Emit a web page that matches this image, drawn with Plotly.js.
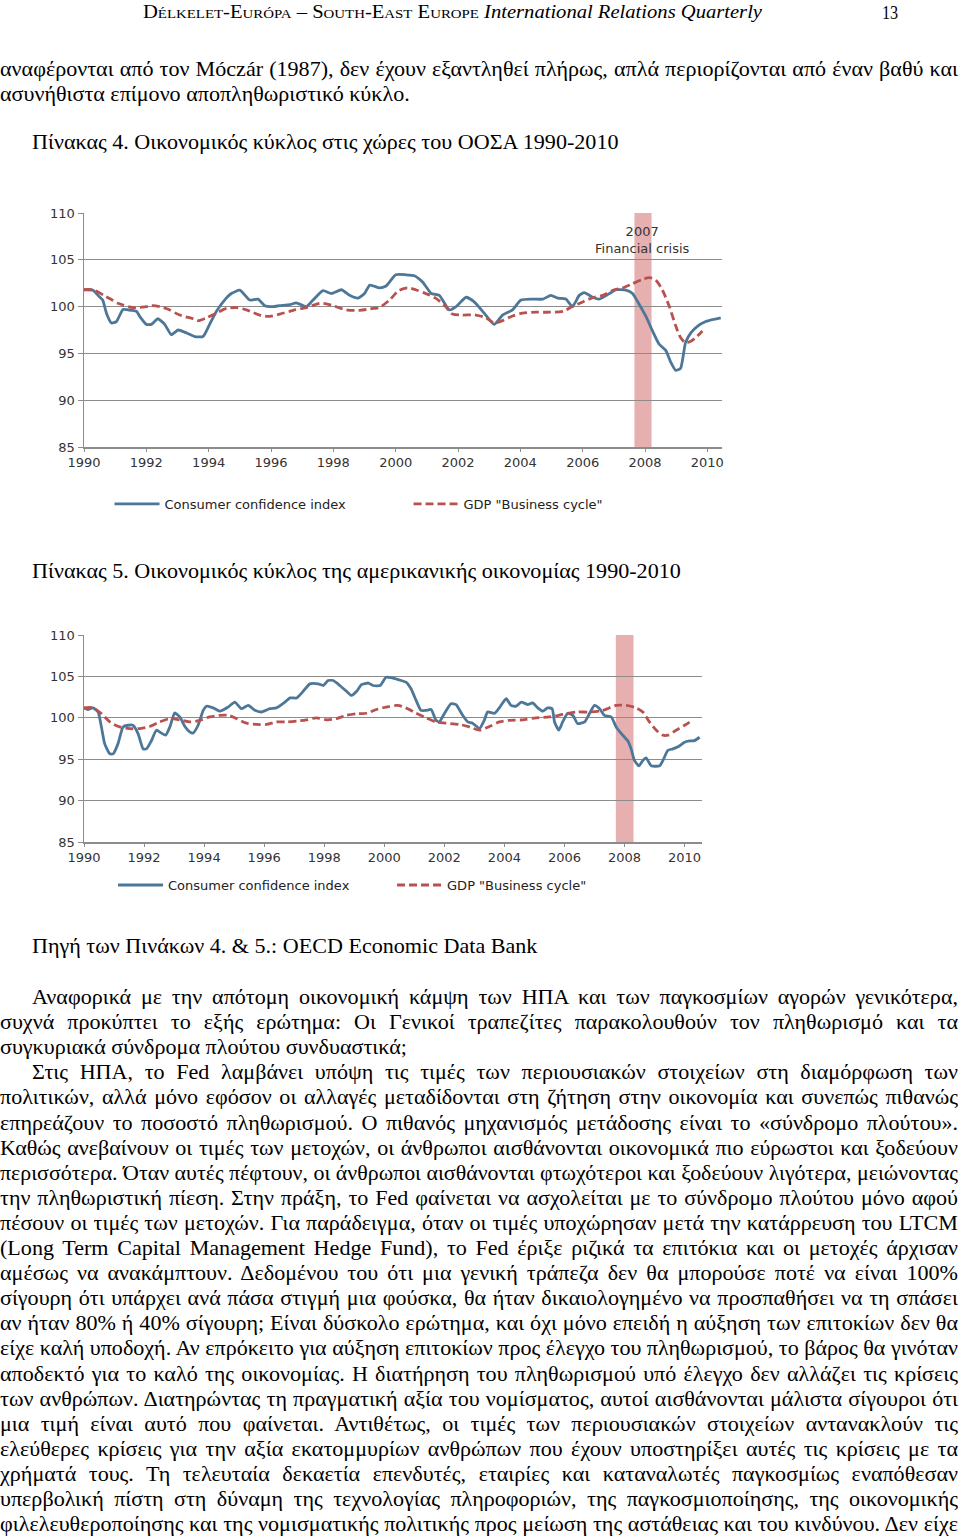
<!DOCTYPE html>
<html><head><meta charset="utf-8">
<script src="https://cdn.plot.ly/plotly-3.0.1.min.js"></script>
<style>
html,body{margin:0;padding:0;background:#fff;}
body{width:960px;height:1539px;position:relative;overflow:hidden;font-family:"Liberation Serif","Times New Roman",serif;color:#000;}
.ln{position:absolute;left:0;white-space:nowrap;font-size:21px;line-height:25px;transform-origin:0 0;}
.hd{position:absolute;white-space:nowrap;font-size:18px;line-height:22px;transform-origin:0 0;}
#c1{position:absolute;left:0;top:195px;width:760px;height:350px;}
#c2{position:absolute;left:0;top:615px;width:760px;height:330px;}
</style></head><body>
<div id="c1"></div>
<div id="c2"></div>
<script>
// ---------- DATA: Chart 1 (OECD countries) ----------
const cc1_years = [1990.00,1990.29,1990.45,1990.60,1990.72,1990.88,1991.04,1991.25,1991.41,1991.68,1991.79,1992.00,1992.16,1992.37,1992.59,1992.80,1993.02,1993.28,1993.55,1993.82,1994.03,1994.25,1994.51,1994.73,1995.00,1995.32,1995.58,1995.80,1996.06,1996.28,1996.60,1996.81,1997.13,1997.35,1997.67,1997.94,1998.26,1998.52,1998.79,1999.00,1999.17,1999.48,1999.69,2000.00,2000.33,2000.60,2000.87,2001.14,2001.40,2001.72,2001.94,2002.26,2002.52,2002.84,2003.16,2003.43,2003.75,2004.02,2004.39,2004.72,2004.98,2005.20,2005.46,2005.67,2005.89,2006.05,2006.32,2006.53,2006.86,2007.07,2007.39,2007.60,2007.82,2008.03,2008.24,2008.45,2008.67,2008.82,2008.98,2009.14,2009.30,2009.47,2009.68,2009.95,2010.16,2010.43];
const cc1_values = [101.8,101.75,101.2,100.7,99.3,98.25,98.4,99.7,99.65,99.5,98.95,98.1,98.1,98.7,98.1,97.0,97.5,97.2,96.8,96.8,98.1,99.5,100.7,101.4,101.75,100.7,100.8,100.1,100.0,100.1,100.2,100.4,100.0,100.7,101.7,101.4,101.8,101.2,100.9,101.4,102.3,102.0,102.2,103.4,103.4,103.3,102.6,101.4,101.2,99.65,100.0,101.0,100.5,99.3,98.1,99.1,99.65,100.7,100.8,100.8,101.2,100.9,100.8,100.0,101.2,101.5,101.0,100.8,101.4,101.8,101.75,101.4,100.2,98.95,97.4,96.0,95.3,94.1,93.2,93.4,96.15,97.2,97.9,98.4,98.6,98.8];
const gdp1_years = [1990.00,1990.29,1990.72,1991.14,1991.57,1992.00,1992.21,1992.64,1993.07,1993.50,1993.66,1993.93,1994.25,1994.57,1994.89,1995.21,1995.64,1995.96,1996.28,1996.71,1997.13,1997.56,1997.78,1997.99,1998.42,1998.84,1999.27,1999.48,1999.80,2000.10,2000.37,2000.64,2000.96,2001.28,2001.60,2001.82,2002.14,2002.57,2002.90,2003.16,2003.43,2003.75,2004.07,2004.50,2004.93,2005.36,2005.67,2006.00,2006.32,2006.65,2006.97,2007.29,2007.60,2007.92,2008.14,2008.35,2008.56,2008.78,2008.99,2009.14,2009.30,2009.47,2009.68,2009.84];
const gdp1_values = [101.8,101.8,101.05,100.3,99.9,100.0,100.1,99.8,99.1,98.7,98.5,98.8,99.3,99.8,99.9,99.65,99.1,98.95,99.2,99.6,99.9,100.35,100.3,100.1,99.65,99.6,99.8,99.9,100.7,101.7,102.0,101.8,101.4,100.9,100.0,99.2,99.1,99.1,98.8,98.25,98.5,99.0,99.3,99.4,99.4,99.5,100.0,100.5,100.95,101.2,101.75,102.0,102.45,102.9,103.1,102.8,101.75,100.0,97.9,96.7,96.15,96.3,96.85,97.4];
const crisis1 = [2007.66, 2008.21];

// ---------- DATA: Chart 2 (US economy) ----------
const cc2_years = [1990.00,1990.13,1990.30,1990.47,1990.58,1990.69,1990.86,1990.97,1991.13,1991.30,1991.47,1991.63,1991.80,1991.97,1992.08,1992.24,1992.41,1992.58,1992.72,1992.86,1993.02,1993.19,1993.36,1993.52,1993.63,1993.80,1993.97,1994.08,1994.30,1994.52,1994.80,1995.02,1995.24,1995.47,1995.69,1995.91,1996.19,1996.41,1996.69,1996.86,1997.08,1997.30,1997.52,1997.80,1997.97,1998.13,1998.30,1998.52,1998.74,1998.91,1999.08,1999.24,1999.47,1999.63,1999.86,2000.06,2000.28,2000.56,2000.72,2000.89,2001.06,2001.22,2001.39,2001.56,2001.72,2001.83,2002.00,2002.22,2002.39,2002.61,2002.78,2002.94,2003.17,2003.33,2003.44,2003.67,2003.83,2004.06,2004.22,2004.39,2004.56,2004.78,2004.94,2005.11,2005.28,2005.44,2005.59,2005.67,2005.81,2005.94,2006.11,2006.28,2006.44,2006.67,2006.83,2007.00,2007.17,2007.33,2007.56,2007.72,2007.94,2008.11,2008.22,2008.33,2008.48,2008.61,2008.72,2008.89,2009.17,2009.28,2009.44,2009.61,2009.78,2010.00,2010.17,2010.33,2010.50];
const cc2_values = [101.2,101.0,101.2,100.7,98.9,96.85,95.65,95.65,96.85,98.9,99.1,99.1,98.1,96.25,96.25,97.2,98.5,98.15,97.9,98.9,100.6,100.1,98.95,98.3,98.15,99.1,100.9,101.4,101.2,100.8,101.3,101.9,101.1,101.5,100.9,100.7,101.1,101.2,101.9,102.4,102.4,103.2,104.1,104.1,103.9,104.5,104.5,103.9,103.2,102.7,103.2,104.0,104.2,103.9,103.9,104.9,104.8,104.5,104.3,103.5,102.1,100.9,100.9,101.0,99.7,99.5,100.5,101.7,101.6,100.3,99.5,99.35,98.7,99.7,100.7,100.55,101.2,102.3,101.5,101.4,101.9,101.6,101.8,101.2,100.8,101.2,101.1,99.5,98.5,99.5,100.55,100.3,99.3,99.5,100.5,101.5,101.1,100.3,100.1,98.9,97.9,97.2,96.25,94.85,94.2,94.85,95.15,94.2,94.2,94.85,96.05,96.25,96.5,97.05,97.2,97.25,97.65];
const gdp2_years = [1990.00,1990.30,1990.58,1990.86,1991.19,1991.52,1991.86,1992.19,1992.52,1992.86,1993.19,1993.52,1993.86,1994.19,1994.52,1994.80,1995.08,1995.41,1995.74,1996.08,1996.41,1996.74,1997.08,1997.41,1997.74,1998.08,1998.41,1998.74,1999.08,1999.41,1999.74,2000.06,2000.44,2000.72,2001.06,2001.39,2001.72,2002.06,2002.50,2002.83,2003.17,2003.50,2003.83,2004.17,2004.61,2005.06,2005.50,2005.94,2006.39,2006.83,2007.28,2007.72,2008.06,2008.39,2008.61,2008.83,2009.06,2009.28,2009.44,2009.72,2010.00,2010.28];
const gdp2_values = [101.2,101.2,100.5,99.5,98.9,98.7,98.7,98.95,99.5,99.9,99.75,99.5,99.7,100.1,100.3,100.3,99.9,99.35,99.2,99.2,99.5,99.5,99.6,99.75,100.0,99.75,99.9,100.3,100.5,100.55,101.0,101.3,101.5,101.2,100.55,100.0,99.5,99.35,99.2,98.9,98.5,98.95,99.5,99.7,99.75,100.0,100.1,100.4,100.7,100.7,100.9,101.5,101.5,101.2,100.7,99.5,98.5,97.9,97.9,98.5,99.1,99.75];
const crisis2 = [2007.71, 2008.30];

// ---------- Labels ----------
const yearTicks = [1990,1992,1994,1996,1998,2000,2002,2004,2006,2008,2010];
const yearTickText = ['1990','1992','1994','1996','1998','2000','2002','2004','2006','2008','2010'];
const valueTicks = [85,90,95,100,105,110];
const valueTickText = ['85','90','95','100','105','110'];
const seriesNames = ['Consumer confidence index', 'GDP "Business cycle"'];
const crisisLabel = '2007<br>Financial crisis';

const headerSmallCaps = 'Délkelet-Európa – South-East Europe';
const headerItalic = 'International Relations Quarterly';
const pageNumber = '13';
const introLines = [
  'αναφέρονται από τον Móczár (1987), δεν έχουν εξαντληθεί πλήρως, απλά περιορίζονται από έναν βαθύ και',
  'ασυνήθιστα επίμονο αποπληθωριστικό κύκλο.'
];
const caption4 = 'Πίνακας 4. Οικονομικός κύκλος στις χώρες του ΟΟΣΑ 1990-2010';
const caption5 = 'Πίνακας 5. Οικονομικός κύκλος της αμερικανικής οικονομίας 1990-2010';
const sourceLine = 'Πηγή των Πινάκων 4. & 5.: OECD Economic Data Bank';
const bodyLines = [
  'Αναφορικά με την απότομη οικονομική κάμψη των ΗΠΑ και των παγκοσμίων αγορών γενικότερα,',
  'συχνά προκύπτει το εξής ερώτημα: Οι Γενικοί τραπεζίτες παρακολουθούν τον πληθωρισμό και τα',
  'συγκυριακά σύνδρομα πλούτου συνδυαστικά;',
  'Στις ΗΠΑ, το Fed λαμβάνει υπόψη τις τιμές των περιουσιακών στοιχείων στη διαμόρφωση των',
  'πολιτικών, αλλά μόνο εφόσον οι αλλαγές μεταδίδονται στη ζήτηση στην οικονομία και συνεπώς πιθανώς',
  'επηρεάζουν το ποσοστό πληθωρισμού. Ο πιθανός μηχανισμός μετάδοσης είναι το «σύνδρομο πλούτου».',
  'Καθώς ανεβαίνουν οι τιμές των μετοχών, οι άνθρωποι αισθάνονται οικονομικά πιο εύρωστοι και ξοδεύουν',
  'περισσότερα. Όταν αυτές πέφτουν, οι άνθρωποι αισθάνονται φτωχότεροι και ξοδεύουν λιγότερα, μειώνοντας',
  'την πληθωριστική πίεση. Στην πράξη, το Fed φαίνεται να ασχολείται με το σύνδρομο πλούτου μόνο αφού',
  'πέσουν οι τιμές των μετοχών. Για παράδειγμα, όταν οι τιμές υποχώρησαν μετά την κατάρρευση του LTCM',
  '(Long Term Capital Management Hedge Fund), το Fed έριξε ριζικά τα επιτόκια και οι μετοχές άρχισαν',
  'αμέσως να ανακάμπτουν. Δεδομένου του ότι μια γενική τράπεζα δεν θα μπορούσε ποτέ να είναι 100%',
  'σίγουρη ότι υπάρχει ανά πάσα στιγμή μια φούσκα, θα ήταν δικαιολογημένο να προσπαθήσει να τη σπάσει',
  'αν ήταν 80% ή 40% σίγουρη; Είναι δύσκολο ερώτημα, και όχι μόνο επειδή η αύξηση των επιτοκίων δεν θα',
  'είχε καλή υποδοχή. Αν επρόκειτο για αύξηση επιτοκίων προς έλεγχο του πληθωρισμού, το βάρος θα γινόταν',
  'αποδεκτό για το καλό της οικονομίας. Η διατήρηση του πληθωρισμού υπό έλεγχο δεν αλλάζει τις κρίσεις',
  'των ανθρώπων. Διατηρώντας τη πραγματική αξία του νομίσματος, αυτοί αισθάνονται μάλιστα σίγουροι ότι',
  'μια τιμή είναι αυτό που φαίνεται. Αντιθέτως, οι τιμές των περιουσιακών στοιχείων αντανακλούν τις',
  'ελεύθερες κρίσεις για την αξία εκατομμυρίων ανθρώπων που έχουν υποστηρίξει αυτές τις κρίσεις με τα',
  'χρήματά τους. Τη τελευταία δεκαετία επενδυτές, εταιρίες και καταναλωτές παγκοσμίως εναπόθεσαν',
  'υπερβολική πίστη στη δύναμη της τεχνολογίας πληροφοριών, της παγκοσμιοποίησης, της οικονομικής',
  'φιλελευθεροποίησης και της νομισματικής πολιτικής προς μείωση της αστάθειας και του κινδύνου. Δεν είχε'
];
const indentedBody = [0, 3];
const paragraphEnds = [2];

// ---------- Text layout ----------
function makeLine(text, cls) {
  const d = document.createElement('div');
  d.className = cls;
  d.textContent = text;
  document.body.appendChild(d);
  return d;
}
function natural(d) { return d.getBoundingClientRect().width; }

const cap4 = makeLine(caption4, 'ln');
const cap5 = makeLine(caption5, 'ln');
const src = makeLine(sourceLine, 'ln');
const sx = ((580 / natural(cap4)) + (668 / natural(cap5)) + (496 / natural(src))) / 3;

function place(d, left, top, scale) {
  d.style.left = left + 'px';
  d.style.top = top + 'px';
  d.style.transform = 'scaleX(' + scale + ')';
}
function justify(d, left, right, top) {
  const w = natural(d);
  const target = (right - left);
  const nsp = (d.textContent.match(/ /g) || []).length;
  if (w * sx <= target && nsp > 0) {
    d.style.wordSpacing = ((target / sx - w) / nsp) + 'px';
    place(d, left, top, sx);
  } else {
    place(d, left, top, target / w);
  }
}
place(cap4, 32, 130, sx);
place(cap5, 32, 559, sx);
place(src, 32, 934, sx);

const i0 = makeLine(introLines[0], 'ln'); justify(i0, 0, 958, 57);
const i1 = makeLine(introLines[1], 'ln'); place(i1, 0, 82, sx);

bodyLines.forEach((t, k) => {
  const d = makeLine(t, 'ln');
  const left = indentedBody.includes(k) ? 32 : 0;
  const top = 985 + k * 25.1;
  if (paragraphEnds.includes(k)) place(d, left, top, sx);
  else justify(d, left, 958, top);
});

// header
const hd = document.createElement('div');
hd.className = 'hd';
const sc = document.createElement('span'); sc.style.fontVariant = 'small-caps'; sc.textContent = headerSmallCaps;
const it = document.createElement('i'); it.textContent = ' ' + headerItalic;
hd.appendChild(sc); hd.appendChild(it);
document.body.appendChild(hd);
place(hd, 143, 1, 619 / natural(hd));
const pn = document.createElement('div'); pn.className = 'hd'; pn.textContent = pageNumber;
document.body.appendChild(pn); place(pn, 882, 2, 0.9);

// ---------- Charts ----------
const BLUE = '#4d7798';
const RED = '#b9524f';
const GRID = '#8c8c8c';
const TICKFONT = {family: 'DejaVu Sans, Verdana, sans-serif', size: 13, color: '#333'};

function chart(id, cx, cy, gx, gy, crisis, xmax, margin, height, legendY, legendX, entryW, annotate) {
  const traces = [
    {x: cx, y: cy, type: 'scatter', mode: 'lines', name: seriesNames[0],
     line: {color: BLUE, width: 2.8, shape: 'spline', smoothing: 0.5}},
    {x: gx, y: gy, type: 'scatter', mode: 'lines', name: seriesNames[1],
     line: {color: RED, width: 2.8, dash: '8px,4px', shape: 'spline', smoothing: 0.8}}
  ];
  const layout = {
    width: 760, height: height, margin: margin,
    paper_bgcolor: '#fff', plot_bgcolor: '#fff',
    showlegend: true,
    legend: {orientation: 'h', x: legendX, xanchor: 'left', y: legendY, yanchor: 'middle',
             font: {family: 'DejaVu Sans, Verdana, sans-serif', size: 13, color: '#222'},
             entrywidth: entryW, entrywidthmode: 'pixels', itemwidth: 45, bgcolor: 'rgba(0,0,0,0)'},
    xaxis: {range: [1990, xmax], tickmode: 'array', tickvals: yearTicks, ticktext: yearTickText,
            ticks: 'outside', ticklen: 3, tickcolor: GRID, showline: true, linecolor: GRID, linewidth: 1.5,
            showgrid: false, zeroline: false, tickfont: TICKFONT, fixedrange: true, automargin: false},
    yaxis: {range: [85, 110], tickmode: 'array', tickvals: valueTicks, ticktext: valueTickText,
            ticks: 'outside', ticklen: 5, tickcolor: GRID, showline: true, linecolor: GRID, linewidth: 1.5,
            showgrid: true, gridcolor: GRID, gridwidth: 1.3, zeroline: false, tickfont: TICKFONT, fixedrange: true, automargin: false},
    shapes: [{type: 'rect', xref: 'x', yref: 'paper', x0: crisis[0], x1: crisis[1], y0: 0, y1: 1,
              fillcolor: '#e7b0b0', line: {width: 0}, layer: 'between'}],
    annotations: annotate ? [{x: (crisis[0] + crisis[1]) / 2, y: 107.15, xref: 'x', yref: 'y', text: crisisLabel,
              showarrow: false, font: {family: 'DejaVu Sans, Verdana, sans-serif', size: 13, color: '#333'}}] : []
  };
  Plotly.newPlot(id, traces, layout, {staticPlot: true, displayModeBar: false});
}
chart('c1', cc1_years, cc1_values, gdp1_years, gdp1_values, crisis1, 2010.47,
      {l: 84, r: 38, t: 18, b: 98}, 350, -0.2436, 0.04, 239, true);
chart('c2', cc2_years, cc2_values, gdp2_years, gdp2_values, crisis2, 2010.58,
      {l: 84, r: 58, t: 20, b: 103}, 330, -0.208, 0.047, 219, false);
</script>
</body></html>
